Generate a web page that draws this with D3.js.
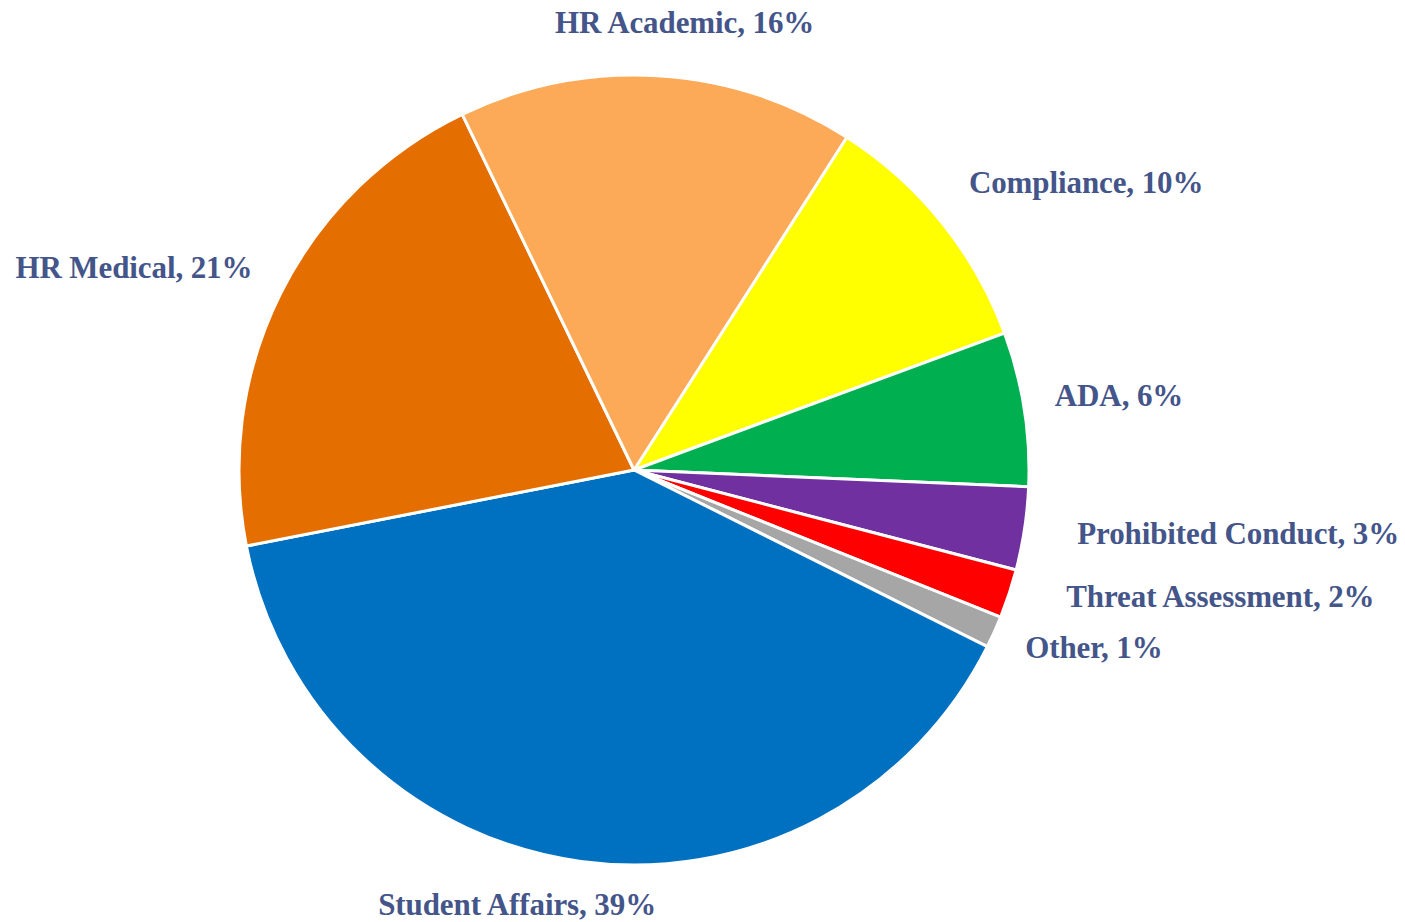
<!DOCTYPE html>
<html>
<head>
<meta charset="utf-8">
<script src="https://cdn.jsdelivr.net/npm/d3@7"></script>
<style>
  body { margin: 0; background: #fff; }
  .label { font-family: "Liberation Serif", "DejaVu Serif", serif; font-weight: bold; fill: #44558a; }
</style>
</head>
<body>
<svg id="chart" width="1405" height="922"></svg>
<script>
// categories in clockwise order, starting at the Compliance slice
const categories = ["Compliance", "ADA", "Prohibited Conduct", "Threat Assessment", "Other",
                    "Student Affairs", "HR Medical", "HR Academic"]
const shares = [10.3, 6.3, 3.4, 2.0, 1.3, 39.5, 20.9, 16.2]
const shareLabels = ["10%", "6%", "3%", "2%", "1%", "39%", "21%", "16%"]
const colors = ["#ffff00", "#00b050", "#7030a0", "#ff0000", "#a6a6a6", "#0070c0", "#e46f00", "#fcaa57"]

const width = 1405, height = 922
const cx = 634, cy = 470, radius = 395
const rem = 31

const data = categories.map((c, i) => ({name: c, value: shares[i], label: shareLabels[i], color: colors[i]}))

const svg = d3.select("#chart")
const g = svg.append("g").attr("transform", "translate(" + cx + "," + cy + ")")

const pie = d3.pie()
    .sort(null)
    .value(d => d.value)
    .startAngle(32.6 * Math.PI / 180)
    .endAngle(32.6 * Math.PI / 180 + 2 * Math.PI)

const arc = d3.arc().innerRadius(0).outerRadius(radius)
const labelArc = d3.arc().innerRadius(radius + 35).outerRadius(radius + 35)

const arcs = pie(data)

g.selectAll("path.slice")
    .data(arcs)
    .enter().append("path")
    .attr("class", "slice")
    .attr("d", arc)
    .attr("fill", d => d.data.color)
    .attr("stroke", "#fff")
    .attr("stroke-width", 3)
    .attr("stroke-linejoin", "round")

// small layout nudges so labels sit where the original chart placed them
const nudge = {
    "HR Academic": [25, -8],
    "Compliance": [0, -7],
    "ADA": [-4, 3],
    "Prohibited Conduct": [18, 10],
    "Threat Assessment": [24, 2],
    "Other": [-1, 12],
    "Student Affairs": [-59, 19],
    "HR Medical": [3, 0]
}

g.selectAll("text.label")
    .data(arcs)
    .enter().append("text")
    .attr("class", "label")
    .attr("font-size", rem)
    .attr("letter-spacing", -0.1)
    .attr("x", d => labelArc.centroid(d)[0] + nudge[d.data.name][0])
    .attr("y", d => labelArc.centroid(d)[1] + nudge[d.data.name][1])
    .attr("text-anchor", d => {
        const a = (d.startAngle + d.endAngle) / 2
        const s = Math.sin(a)
        return s > 0.3 ? "start" : (s < -0.3 ? "end" : "middle")
    })
    .text(d => d.data.name + ", " + d.data.label)
</script>
</body>
</html>
